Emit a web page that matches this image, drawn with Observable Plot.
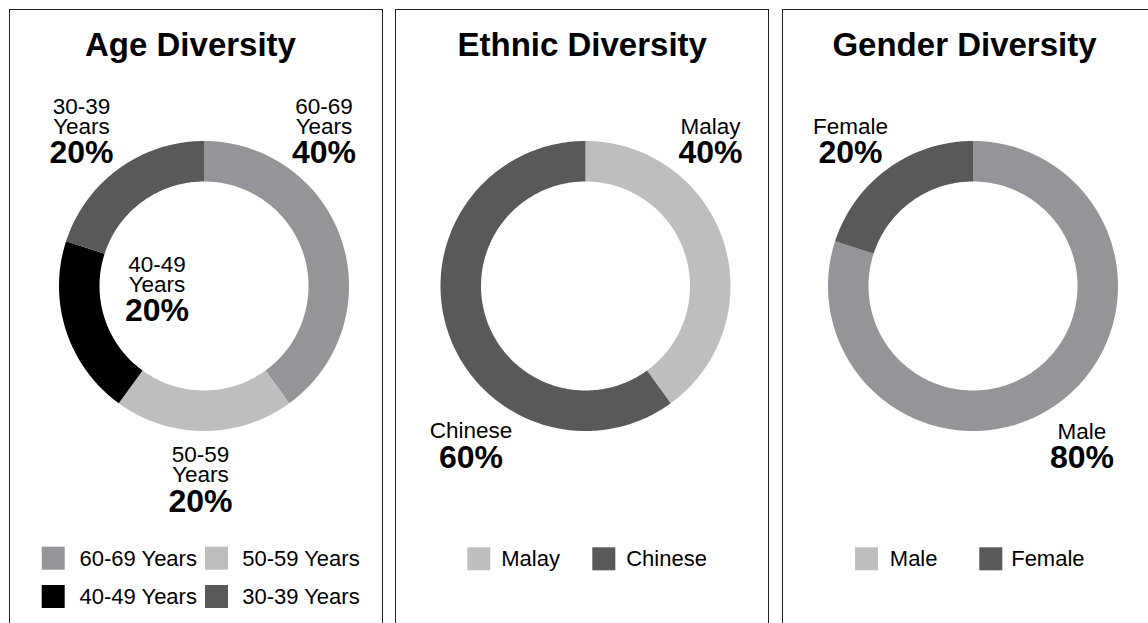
<!DOCTYPE html>
<html>
<head>
<meta charset="utf-8">
<script src="https://cdn.jsdelivr.net/npm/d3@7"></script>
<script src="https://cdn.jsdelivr.net/npm/@observablehq/plot@0.6"></script>
<style>
  html, body { margin: 0; padding: 0; background: #fff; }
  body { width: 1148px; height: 623px; position: relative; overflow: hidden; font-family: "Liberation Sans", Arial, Helvetica, sans-serif; }
  .panel { position: absolute; top: 9px; width: 374px; height: 700px; border: 1px solid #231f20; box-sizing: border-box; }
  .chart { position: absolute; top: 0; width: 374px; height: 623px; }
  .chart svg { display: block; overflow: visible; max-width: none !important; width: 374px !important; height: 623px !important; }
</style>
</head>
<body>
<script>
// ---------------- DATA ----------------
const titles = ["Age Diversity", "Ethnic Diversity", "Gender Diversity"];

const ageCategories = ["60-69 Years", "50-59 Years", "40-49 Years", "30-39 Years"];
const ageValues = [40, 20, 20, 20];
const ageColors = ["#939598", "#bcbec0", "#000000", "#58595b"];
const ageLegendColors = ["#939598", "#bcbec0", "#000000", "#58595b"];

const ethnicCategories = ["Malay", "Chinese"];
const ethnicValues = [40, 60];
const ethnicColors = ["#bcbec0", "#58595b"];
const ethnicLegendColors = ["#bcbec0", "#58595b"];

const genderCategories = ["Male", "Female"];
const genderValues = [80, 20];
const genderColors = ["#939598", "#58595b"];
const genderLegendColors = ["#bcbec0", "#58595b"];

// ---------------- LAYOUT (pixels, panel-local) ----------------
const H = 623, W = 374;
const layouts = [
  { left: 9, cx: 194.5, cy: 285.5, titleX: 190 - 9,
    labels: [ {x: 314.5, b: 113}, {x: 191, b: 461.7}, {x: 147.5, b: 271}, {x: 72, b: 113} ],
    legend: [ {sx: 32.7, sy: 546.7, tx: 70}, {sx: 196, sy: 546.7, tx: 232.7},
              {sx: 32.7, sy: 585, tx: 70}, {sx: 196, sy: 585, tx: 232.7} ] },
  { left: 395, cx: 190, cy: 285.5, titleX: 186.7,
    labels: [ {x: 315, b: 133.3}, {x: 75.5, b: 437.7} ],
    legend: [ {sx: 72.3, sy: 547.3, tx: 105.7}, {sx: 197.3, sy: 547.3, tx: 230.7} ] },
  { left: 782, cx: 190.5, cy: 285.5, titleX: 182,
    labels: [ {x: 299.5, b: 438.3}, {x: 68, b: 133.3} ],
    legend: [ {sx: 73, sy: 547.3, tx: 107.3}, {sx: 197.3, sy: 547.3, tx: 228.7} ] }
];
const R_OUT = 145, R_IN = 104.5;
const SW = 23; // legend swatch size
const FS_NAME = 22.5, FS_PCT = 32, FS_TITLE = 33, FS_LEG = 22;
const LINE_GAP = 20, PCT_GAP = 29.5;
const FONT = "Liberation Sans, Arial, Helvetica, sans-serif";

const panels = [
  { cats: ageCategories, vals: ageValues, cols: ageColors, leg: ageLegendColors, split: true },
  { cats: ethnicCategories, vals: ethnicValues, cols: ethnicColors, leg: ethnicLegendColors, split: false },
  { cats: genderCategories, vals: genderValues, cols: genderColors, leg: genderLegendColors, split: false }
];

panels.forEach((p, pi) => {
  const L = layouts[pi];
  const data = p.cats.map((c, i) => ({ cat: c, value: p.vals[i], color: p.cols[i], legColor: p.leg[i], i }));
  const arcs = d3.pie().sort(null).value(d => d.value)(data);

  // ring polygons built from the pie angles
  const ringMarks = arcs.map(a => {
    const pts = [];
    const n = Math.max(2, Math.ceil((a.endAngle - a.startAngle) / (Math.PI / 180)) + 1);
    for (let k = 0; k < n; k++) {
      const t = a.startAngle + (a.endAngle - a.startAngle) * k / (n - 1);
      pts.push({ x: L.cx + R_OUT * Math.sin(t), y: L.cy - R_OUT * Math.cos(t) });
    }
    for (let k = n - 1; k >= 0; k--) {
      const t = a.startAngle + (a.endAngle - a.startAngle) * k / (n - 1);
      pts.push({ x: L.cx + R_IN * Math.sin(t), y: L.cy - R_IN * Math.cos(t) });
    }
    pts.push(pts[0]);
    return Plot.line(pts, { x: "x", y: "y", fill: a.data.color, stroke: "none", curve: "linear" });
  });

  // label rows
  const nameRows = [], pctRows = [];
  data.forEach((d, i) => {
    const lab = L.labels[i];
    const lines = p.split ? d.cat.split(" ") : [d.cat];
    lines.forEach((ln, j) => nameRows.push({ x: lab.x, y: lab.b + j * LINE_GAP - 0.32 * FS_NAME, text: ln }));
    const pb = lab.b + (lines.length - 1) * LINE_GAP + PCT_GAP;
    pctRows.push({ x: lab.x, y: pb - 0.32 * FS_PCT, text: d.value + "%" });
  });

  const legRows = data.map((d, i) => ({
    x1: L.legend[i].sx, x2: L.legend[i].sx + SW,
    y1: L.legend[i].sy, y2: L.legend[i].sy + SW,
    tx: L.legend[i].tx, ty: L.legend[i].sy + SW / 2,
    color: d.legColor, text: d.cat
  }));

  const chart = Plot.plot({
    width: W, height: H,
    margin: 0,
    x: { domain: [0, W], range: [0, W], axis: null },
    y: { domain: [0, H], range: [0, H], axis: null },
    style: { fontFamily: FONT, background: "transparent", overflow: "visible" },
    marks: [
      ...ringMarks,
      Plot.text([titles[pi]], { x: () => L.titleX, y: () => 55 - 0.32 * FS_TITLE, text: d => d,
        fontSize: FS_TITLE, fontWeight: "bold", fill: "#000", textAnchor: "middle" }),
      Plot.text(nameRows, { x: "x", y: "y", text: "text", fontSize: FS_NAME, fill: "#000", textAnchor: "middle" }),
      Plot.text(pctRows, { x: "x", y: "y", text: "text", fontSize: FS_PCT, fontWeight: "bold", fill: "#000", textAnchor: "middle" }),
      Plot.rect(legRows, { x1: "x1", x2: "x2", y1: "y1", y2: "y2", fill: d => d.color }),
      Plot.text(legRows, { x: "tx", y: "ty", text: "text", fontSize: FS_LEG, fill: "#000", textAnchor: "start" })
    ]
  });

  const border = document.createElement("div");
  border.className = "panel";
  border.style.left = L.left + "px";
  document.body.appendChild(border);

  const wrap = document.createElement("div");
  wrap.className = "chart";
  wrap.style.left = L.left + "px";
  wrap.appendChild(chart);
  document.body.appendChild(wrap);
});
</script>
</body>
</html>
